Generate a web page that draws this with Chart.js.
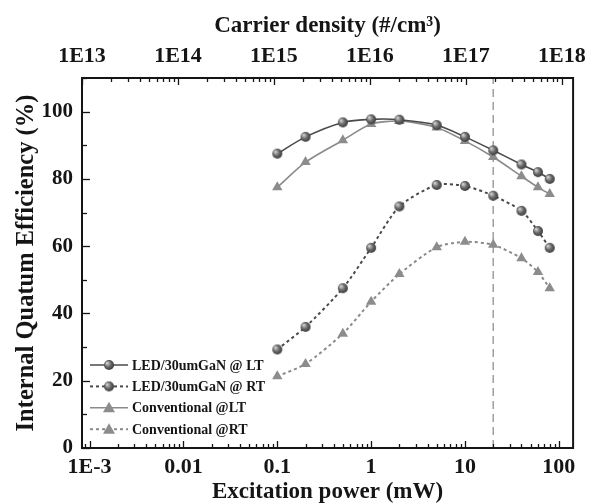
<!DOCTYPE html>
<html>
<head>
<meta charset="utf-8">
<script src="https://cdn.jsdelivr.net/npm/chart.js@4.4.1/dist/chart.umd.min.js"></script>
<style>
  body { margin: 0; background: #fff; }
  canvas { display: block; }
</style>
</head>
<body>
<canvas id="chart" width="594" height="504"></canvas>
<script>
'use strict';

// excitation power (mW)
var power = [0.1, 0.2, 0.5, 1, 2, 5, 10, 20, 40, 60, 80];

var ledLT  = [87.5, 92.5, 96.8, 97.7, 97.6, 96.0, 92.5, 88.5, 84.3, 82.0, 80.0];
var ledRT  = [29.3, 36.0, 47.5, 59.5, 71.8, 78.2, 77.9, 75.0, 70.5, 64.5, 59.5];
var convLT = [77.5, 85.0, 91.5, 96.3, 97.2, 95.3, 91.3, 86.5, 80.8, 77.5, 75.5];
var convRT = [21.3, 25.0, 34.0, 43.5, 51.7, 59.7, 61.3, 60.4, 56.4, 52.3, 47.5];

var markerPower = 20;   // vertical dashed line

var xTickValues = [0.001, 0.01, 0.1, 1, 10, 100];
var xTickLabels = ['1E-3', '0.01', '0.1', '1', '10', '100'];
var topTickValues = [1e13, 1e14, 1e15, 1e16, 1e17, 1e18];
var topTickLabels = ['1E13', '1E14', '1E15', '1E16', '1E17', '1E18'];
var yTickValues = [0, 20, 40, 60, 80, 100];

var SERIF = '"Liberation Serif", "Times New Roman", serif';
var INK = '#151515';

function toPoints(ys) {
    return power.map(function (p, i) { return { x: p, y: ys[i] }; });
}

function sphere(r) {
    var c = document.createElement('canvas');
    c.width = c.height = r * 2 + 2;
    var g = c.getContext('2d');
    var grad = g.createRadialGradient(r - 1, r - 1, 0.5, r + 1, r + 1, r + 1);
    grad.addColorStop(0, '#d0d0d0');
    grad.addColorStop(0.45, '#6c6c6c');
    grad.addColorStop(1, '#2a2a2a');
    g.fillStyle = grad;
    g.beginPath();
    g.arc(r + 1, r + 1, r, 0, Math.PI * 2);
    g.fill();
    return c;
}

var ball = sphere(5);

function series(label, ys, color, dash, style) {
    return {
        label: label,
        data: toPoints(ys),
        borderColor: color,
        backgroundColor: color,
        borderWidth: dash.length ? 2 : 1.6,
        borderDash: dash,
        pointStyle: style,
        pointRadius: style === 'triangle' ? 6 : 5,
        pointBorderWidth: 0,
        pointBackgroundColor: '#8c8c8c',
        tension: 0.25,
        inLegend: true
    };
}

// inward ticks, frame and the boxed legend
var decor = {
    id: 'decor',
    afterDatasetsDraw: function (chart) {
        var ctx = chart.ctx;
        var a = chart.chartArea;
        var sx = chart.scales.x, st = chart.scales.x2, sy = chart.scales.y;
        ctx.save();
        ctx.strokeStyle = INK;
        ctx.lineWidth = 1.3;
        ctx.setLineDash([]);

        function logTicks(scale, yEdge, dir, lenMajor, lenMinor) {
            var lo = Math.floor(Math.log10(scale.min)), hi = Math.ceil(Math.log10(scale.max));
            for (var e = lo; e <= hi; e++) {
                for (var k = 1; k <= 9; k++) {
                    var v = k * Math.pow(10, e);
                    if (v < scale.min || v > scale.max) continue;
                    var px = Math.round(scale.getPixelForValue(v)) + 0.5;
                    var len = k === 1 ? lenMajor : lenMinor;
                    ctx.beginPath();
                    ctx.moveTo(px, yEdge);
                    ctx.lineTo(px, yEdge + dir * len);
                    ctx.stroke();
                }
            }
        }
        logTicks(sx, a.bottom, -1, 7, 4);
        logTicks(st, a.top, 1, 7, 4);

        for (var v = 0; v <= sy.max; v += 10) {
            var py = Math.round(sy.getPixelForValue(v)) + 0.5;
            ctx.beginPath();
            ctx.moveTo(a.left, py);
            ctx.lineTo(a.left + (v % 20 === 0 ? 8 : 5), py);
            ctx.stroke();
        }

        ctx.lineWidth = 2;
        ctx.strokeRect(a.left, a.top, a.right - a.left, a.bottom - a.top);

        // legend
        var sets = chart.data.datasets.filter(function (d) { return d.inLegend; });
        var x0 = a.left + 8, y0 = a.bottom - 83;
        ctx.font = 'bold 14px ' + SERIF;
        ctx.textBaseline = 'middle';
        sets.forEach(function (d, i) {
            var y = y0 + i * 21.4;
            ctx.strokeStyle = d.borderColor;
            ctx.lineWidth = d.borderWidth;
            ctx.setLineDash(d.borderDash);
            ctx.beginPath();
            ctx.moveTo(x0, y);
            ctx.lineTo(x0 + 38, y);
            ctx.stroke();
            ctx.setLineDash([]);
            var mx = x0 + 19;
            if (d.pointStyle === 'triangle') {
                ctx.fillStyle = '#8c8c8c';
                ctx.beginPath();
                ctx.moveTo(mx, y - 6);
                ctx.lineTo(mx + 6, y + 4.5);
                ctx.lineTo(mx - 6, y + 4.5);
                ctx.closePath();
                ctx.fill();
            } else {
                ctx.drawImage(d.pointStyle, mx - d.pointStyle.width / 2, y - d.pointStyle.height / 2);
            }
            ctx.fillStyle = INK;
            ctx.fillText(d.label, x0 + 42, y + 1);
        });
        ctx.restore();
    }
};

var tickFont = { family: SERIF, size: 22, weight: 'bold' };
var titleFont = { family: SERIF, size: 23, weight: 'bold', lineHeight: 1 };

new Chart(document.getElementById('chart').getContext('2d'), {
    type: 'line',
    data: {
        datasets: [
            series('LED/30umGaN @ LT', ledLT, '#4a4a4a', [], ball),
            series('LED/30umGaN @ RT', ledRT, '#4a4a4a', [3, 3], ball),
            series('Conventional @LT', convLT, '#8a8a8a', [], 'triangle'),
            series('Conventional @RT', convRT, '#8a8a8a', [3, 3], 'triangle'),
            {
                label: 'marker',
                data: [{ x: markerPower, y: 0 }, { x: markerPower, y: 110 }],
                borderColor: '#a0a0a0',
                borderWidth: 1.5,
                borderDash: [8, 5],
                pointRadius: 0,
                inLegend: false
            }
        ]
    },
    options: {
        responsive: false,
        animation: false,
        devicePixelRatio: 1,
        layout: { padding: { left: 0, right: 14, top: 0, bottom: 0 } },
        plugins: { legend: { display: false }, tooltip: { enabled: false } },
        scales: {
            x: {
                type: 'logarithmic',
                position: 'bottom',
                min: 0.00083,
                max: 142,
                afterBuildTicks: function (s) { s.ticks = xTickValues.map(function (v) { return { value: v }; }); },
                afterFit: function (s) { s.height = 56; },
                grid: { display: false, drawTicks: false },
                border: { display: false },
                ticks: {
                    autoSkip: false, maxRotation: 0, padding: 6, color: INK, font: tickFont,
                    callback: function (v, i) { return xTickLabels[i]; }
                },
                title: { display: true, text: 'Excitation power (mW)', color: INK, font: titleFont, padding: { top: 0, bottom: 0 } }
            },
            x2: {
                type: 'logarithmic',
                position: 'top',
                min: 1e13,
                max: 1.31e18,
                afterBuildTicks: function (s) { s.ticks = topTickValues.map(function (v) { return { value: v }; }); },
                afterFit: function (s) { s.height = 78; },
                grid: { display: false, drawTicks: false },
                border: { display: false },
                ticks: {
                    autoSkip: false, maxRotation: 0, padding: 8, color: INK, font: tickFont,
                    callback: function (v, i) { return topTickLabels[i]; }
                },
                title: { display: true, text: 'Carrier density (#/cm\u00B3)', color: INK, font: titleFont, padding: { top: 15, bottom: 0 } }
            },
            y: {
                min: 0,
                max: 110,
                afterBuildTicks: function (s) { s.ticks = yTickValues.map(function (v) { return { value: v }; }); },
                afterFit: function (s) { s.width = 82; },
                grid: { display: false, drawTicks: false },
                border: { display: false },
                ticks: { padding: 9, color: INK, font: { family: SERIF, size: 21, weight: 'bold' } },
                title: {
                    display: true, text: 'Internal Quatum Efficiency (%)', color: INK,
                    font: { family: SERIF, size: 24.5, weight: 'bold', lineHeight: 1 }, padding: { top: 14, bottom: 0 }
                }
            }
        }
    },
    plugins: [decor]
});
</script>
</body>
</html>
